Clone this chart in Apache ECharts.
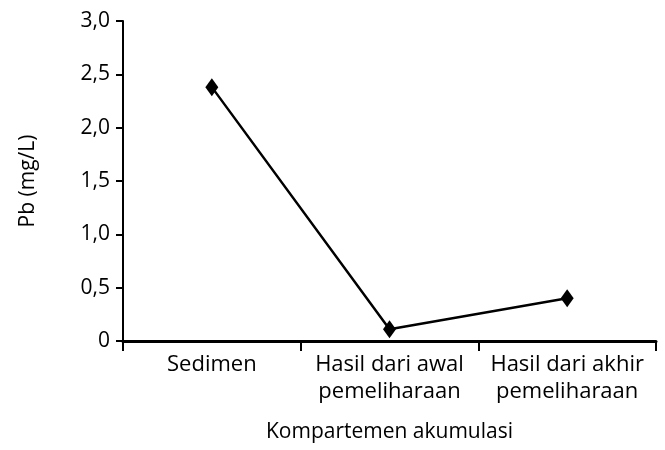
<!DOCTYPE html>
<html>
<head>
<meta charset="utf-8">
<script src="https://cdn.jsdelivr.net/npm/echarts@6/dist/echarts.min.js"></script>
<style>
html,body{margin:0;padding:0;background:#fff;}
#chart{width:665px;height:450px;}
</style>
</head>
<body>
<div id="chart"></div>
<script>
var categories = ['Sedimen', 'Hasil dari awal\npemeliharaan', 'Hasil dari akhir\npemeliharaan'];
var pbValues = [2.38, 0.11, 0.40];
var xAxisTitle = 'Kompartemen akumulasi';
var yAxisTitle = 'Pb (mg/L)';

var FONT = '"Open Sans", sans-serif';
var chart = echarts.init(document.getElementById('chart'), null, {renderer: 'canvas'});
chart.setOption({
  animation: false,
  backgroundColor: '#ffffff',
  grid: {left: 123, right: 9, top: 21, bottom: 109, containLabel: false},
  xAxis: {
    type: 'category',
    data: categories,
    boundaryGap: true,
    name: xAxisTitle,
    nameLocation: 'middle',
    nameGap: 81,
    nameTextStyle: {fontFamily: FONT, fontSize: 21, color: '#000'},
    axisLine: {lineStyle: {color: '#000', width: 3}},
    axisTick: {show: true, inside: false, length: 10, lineStyle: {color: '#000', width: 2}},
    axisLabel: {fontFamily: FONT, fontSize: 22, color: '#000', lineHeight: 27, margin: 10, interval: 0},
    splitLine: {show: false}
  },
  yAxis: {
    type: 'value',
    min: 0, max: 3, interval: 0.5,
    name: yAxisTitle,
    nameLocation: 'middle',
    nameRotate: 90,
    nameGap: 84,
    nameTextStyle: {fontFamily: FONT, fontSize: 21, color: '#000'},
    axisLine: {show: true, lineStyle: {color: '#000', width: 2}},
    axisTick: {show: true, inside: false, length: 7, lineStyle: {color: '#000', width: 2}},
    axisLabel: {
      fontFamily: FONT, fontSize: 21, color: '#000', margin: 13,
      formatter: function (v) { return v === 0 ? '0' : v.toFixed(1).replace('.', ','); }
    },
    splitLine: {show: false}
  },
  series: [{
    type: 'line',
    data: pbValues,
    symbol: 'diamond',
    symbolSize: [13, 18],
    showSymbol: true,
    itemStyle: {color: '#000'},
    lineStyle: {color: '#000', width: 2.5}
  }]
});
</script>
</body>
</html>
